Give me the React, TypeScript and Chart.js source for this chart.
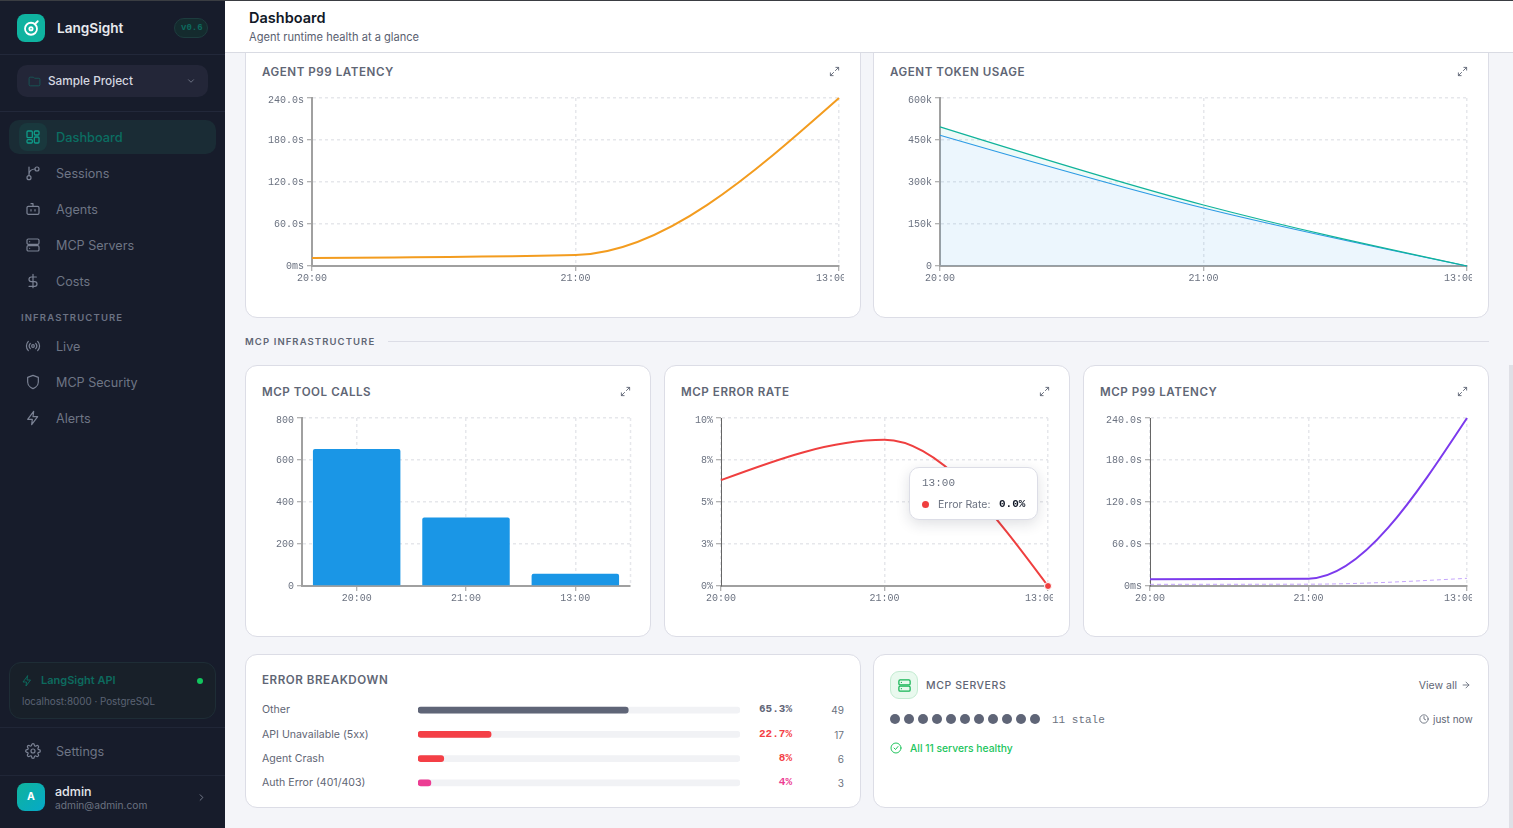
import React, { useEffect, useRef } from "react";
import { Chart, registerables } from "chart.js";
Chart.register(...registerables);

const timeLabels = ["20:00", "21:00", "13:00"];
const latencyTicks = ["0ms", "60.0s", "120.0s", "180.0s", "240.0s"];
const tokenTicks = ["0", "150k", "300k", "450k", "600k"];
const callTicks = ["0", "200", "400", "600", "800"];
const errorTicks = ["0%", "3%", "5%", "8%", "10%"];

const agentLatency = [11.4, 15.6, 240];
const tokensTotal = [497000, 218000, 0];
const tokensOutput = [467000, 207000, 0];
const toolCalls = [652, 326, 58];
const errorRate = [6.3, 8.7, 0];
const mcpLatency = [9.6, 10.5, 240];
const mcpLatencyP50 = [2.4, 2.6, 11];

const errorNames = ["Other", "API Unavailable (5xx)", "Agent Crash", "Auth Error (401/403)"];
const errorPercents = [65.3, 22.7, 8, 4];
const errorCounts = [49, 17, 6, 3];
const errorColors = ["#5f6577", "#f43f46", "#f43f46", "#ec3d93"];
const errorTextColors = ["#5f6577", "#f43f46", "#f43f46", "#ec3d93"];
const trackValues = [100, 100, 100, 100];

const MONO = "'Liberation Mono', monospace";
const SANS = "Inter, sans-serif";

const shiftPlugin = {
  id: "shiftTop",
  beforeDraw(chart: any) {
    const y = chart.scales.y;
    if (!y) return;
    const items = y.getLabelItems();
    const top = items[items.length - 1];
    if (top && !top.__moved) {
      top.options.translation = [top.options.translation[0], top.options.translation[1] + 2.5];
      top.__moved = true;
    }
  },
};

const shiftLastX = {
  id: "shiftLastX",
  beforeDraw(chart: any) {
    const items = chart.scales.x.getLabelItems();
    const last = items[items.length - 1];
    if (last && !last.__moved) {
      last.options.translation = [last.options.translation[0] - 8, last.options.translation[1]];
      last.__moved = true;
    }
  },
};

const sgn = (v: number) => (v < 0 ? -1 : 1);
// Monotone-X tangents: the end segments keep their slope instead of flattening out.
const monotoneX = {
  id: "monotoneX",
  afterDatasetsUpdate(chart: any) {
    chart.getSortedVisibleDatasetMetas().forEach((meta: any) => {
      if (meta.type !== "line") return;
      meta.dataset.updateControlPoints(chart.chartArea, "x");
      const pts = meta.data;
      const n = pts.length;
      const t: number[] = new Array(n).fill(0);
      for (let i = 1; i < n - 1; i++) {
        const h0 = pts[i].x - pts[i - 1].x;
        const h1 = pts[i + 1].x - pts[i].x;
        const s0 = (pts[i].y - pts[i - 1].y) / h0;
        const s1 = (pts[i + 1].y - pts[i].y) / h1;
        const p = (s0 * h1 + s1 * h0) / (h0 + h1);
        t[i] = (sgn(s0) + sgn(s1)) * Math.min(Math.abs(s0), Math.abs(s1), 0.5 * Math.abs(p));
      }
      t[0] = (3 * (pts[1].y - pts[0].y) / (pts[1].x - pts[0].x) - t[1]) / 2;
      t[n - 1] = (3 * (pts[n - 1].y - pts[n - 2].y) / (pts[n - 1].x - pts[n - 2].x) - t[n - 2]) / 2;
      for (let i = 0; i < n - 1; i++) {
        const dx = (pts[i + 1].x - pts[i].x) / 3;
        pts[i].cp2x = pts[i].x + dx;
        pts[i].cp2y = pts[i].y + dx * t[i];
        pts[i + 1].cp1x = pts[i + 1].x - dx;
        pts[i + 1].cp1y = pts[i + 1].y - dx * t[i + 1];
      }
    });
  },
};

const edgePlugin = {
  id: "rightEdge",
  beforeDatasetsDraw(chart: any) {
    const { ctx, chartArea } = chart;
    ctx.save();
    ctx.strokeStyle = "#e6e7eb";
    ctx.lineWidth = 1.5;
    ctx.setLineDash([3, 3]);
    ctx.beginPath();
    ctx.moveTo(chartArea.right + 0.5, chartArea.top);
    ctx.lineTo(chartArea.right + 0.5, chartArea.bottom);
    ctx.stroke();
    ctx.restore();
  },
};

function baseOptions(yw: number, max: number, ticks: string[], barOffset = false, yAxisColor = "#a0a0a0", yAxisWidth = 2, rightPad = 5): any {
  const grid = {
    color: "#e6e7eb",
    lineWidth: 1.5,
    tickColor: "#9a9a9a",
    tickWidth: 1,
    tickLength: 5,
    tickBorderDash: [],
    drawTicks: true,
  };
  return {
    responsive: false,
    animation: false,
    events: [],
    layout: { padding: { top: 10, right: rightPad, left: 0, bottom: 0 } },
    plugins: { legend: { display: false }, tooltip: { enabled: false } },
    scales: {
      x: {
        type: "category",
        offset: barOffset,
        grid: { ...grid, offset: false },
        border: { display: true, color: "#a0a0a0", width: 2, dash: [3, 3] },
        ticks: {
          autoSkip: false,
          maxRotation: 0,
          minRotation: 0,
          padding: 1,
          color: "#6b7280",
          font: { family: MONO, size: 10 },
        },
        afterFit(s: any) {
          s.height = 22;
          s.paddingLeft = 0;
          s.paddingRight = 0;
        },
      },
      y: {
        min: 0,
        max,
        ticks: {
          stepSize: max / 4,
          padding: 3,
          color: "#6b7280",
          font: { family: MONO, size: 10 },
          callback: (_v: any, i: number) => ticks[i],
        },
        grid: { ...grid },
        border: { display: true, color: yAxisColor, width: yAxisWidth, dash: [3, 3] },
        afterFit(s: any) {
          s.width = yw;
          s.paddingTop = 0;
          s.paddingBottom = 0;
        },
      },
    },
  };
}

function ChartBox({ left, top, width, height, config }: any) {
  const ref = useRef<HTMLCanvasElement>(null);
  useEffect(() => {
    const c = new Chart(ref.current as HTMLCanvasElement, config());
    return () => c.destroy();
  }, []);
  return <canvas ref={ref} width={width} height={height} style={{ position: "absolute", left, top, width, height, display: "block" }} />;
}

const line = (data: number[], color: string, extra: any = {}) => ({
  data,
  borderColor: color,
  borderWidth: 2,
  cubicInterpolationMode: "monotone",
  pointRadius: 0,
  clip: false,
  fill: false,
  ...extra,
});

const agentLatencyConfig = () => ({
  type: "line",
  data: { labels: timeLabels, datasets: [line(agentLatency, "#f39c1f")] },
  options: baseOptions(50, 240, latencyTicks),
  plugins: [shiftPlugin, shiftLastX, monotoneX],
});
const tokenConfig = () => ({
  type: "line",
  data: {
    labels: timeLabels,
    datasets: [
      line(tokensTotal, "#10b39a", { borderWidth: 1.2, fill: "+1", backgroundColor: "rgba(16,179,154,0.07)" }),
      line(tokensOutput, "#2e9ae8", { borderWidth: 1.2, fill: "origin", backgroundColor: "rgba(46,154,232,0.09)" }),
    ],
  },
  options: baseOptions(50, 600000, tokenTicks),
  plugins: [shiftPlugin, shiftLastX, monotoneX],
});
const callsConfig = () => ({
  type: "bar",
  data: {
    labels: timeLabels,
    datasets: [{ data: toolCalls, backgroundColor: "#1a96e6", categoryPercentage: 0.8, barPercentage: 1, borderRadius: { topLeft: 2, topRight: 2 }, borderSkipped: false }],
  },
  options: baseOptions(40, 800, callTicks, true, "#a0a0a0", 2, 6),
  plugins: [shiftPlugin, edgePlugin],
});
const errorConfig = () => ({
  type: "line",
  data: {
    labels: timeLabels,
    datasets: [
      line(errorRate, "#ef3f3f", {
        pointRadius: [0, 0, 3.5],
        pointBackgroundColor: "#ef3f3f",
        pointBorderColor: "#ffffff",
        pointBorderWidth: 1,
      }),
    ],
  },
  options: baseOptions(40, 10, errorTicks, false, "#666666", 1),
  plugins: [shiftPlugin, shiftLastX, monotoneX],
});
const mcpLatencyConfig = () => ({
  type: "line",
  data: {
    labels: timeLabels,
    datasets: [
      line(mcpLatencyP50, "#c4a5fb", { borderWidth: 1, borderDash: [4, 3] }),
      line(mcpLatency, "#7c3aed"),
    ],
  },
  options: baseOptions(50, 240, latencyTicks, false, "#666666", 1),
  plugins: [shiftPlugin, shiftLastX, monotoneX],
});
const breakdownConfig = () => ({
  type: "bar",
  data: {
    labels: errorNames,
    datasets: [
      { data: errorPercents, backgroundColor: errorColors, order: 0, barThickness: 6, borderRadius: 3, borderSkipped: false },
      { data: trackValues, backgroundColor: "#f1f2f5", order: 1, barThickness: 6, borderRadius: 3, borderSkipped: false },
    ],
  },
  options: {
    indexAxis: "y",
    responsive: false,
    animation: false,
    events: [],
    plugins: { legend: { display: false }, tooltip: { enabled: false } },
    scales: {
      x: { display: false, min: 0, max: 100 },
      y: { display: false, stacked: true },
    },
    datasets: { bar: { grouped: false } },
  },
});

function T({ x, y, right, c, s, w, f, ls, children }: any) {
  return (
    <div
      style={{
        position: "absolute",
        left: right === undefined ? x : undefined,
        right: right === undefined ? undefined : 1513 - right,
        top: y,
        transform: "translateY(-50%)",
        color: c,
        fontSize: s,
        fontWeight: w || 400,
        fontFamily: f || SANS,
        letterSpacing: ls,
        whiteSpace: "nowrap",
        lineHeight: 1.2,
      }}
    >
      {children}
    </div>
  );
}

function Box({ x, y, w, h, bg, r, b, extra }: any) {
  return <div style={{ position: "absolute", left: x, top: y, width: w, height: h, background: bg, borderRadius: r, border: b, boxSizing: "border-box", ...extra }} />;
}

function Icon({ cx, cy, size = 16, color, sw = 1.6, d, children }: any) {
  return (
    <svg
      width={size}
      height={size}
      viewBox="0 0 24 24"
      fill="none"
      stroke={color}
      strokeWidth={sw}
      strokeLinecap="round"
      strokeLinejoin="round"
      style={{ position: "absolute", left: cx - size / 2, top: cy - size / 2 }}
    >
      {d && <path d={d} />}
      {children}
    </svg>
  );
}

const P = {
  grid: (
    <>
      <rect x="3" y="3" width="8" height="10" rx="1.5" />
      <rect x="14" y="3" width="7" height="6" rx="1.5" />
      <rect x="14" y="12" width="7" height="9" rx="1.5" />
      <rect x="3" y="16" width="8" height="5" rx="1.5" />
    </>
  ),
  branch: (
    <>
      <circle cx="6" cy="19" r="3" />
      <circle cx="18" cy="6" r="3" />
      <path d="M6 3v13M15 6c-5 0-9 3-9 8" />
    </>
  ),
  bot: (
    <>
      <rect x="3" y="8" width="18" height="12" rx="2" />
      <path d="M12 8V4H9M9 13v2M15 13v2" />
    </>
  ),
  server: (
    <>
      <rect x="3" y="3" width="18" height="8" rx="2" />
      <rect x="3" y="13" width="18" height="8" rx="2" />
      <path d="M7 7h.01M7 17h.01" />
    </>
  ),
  dollar: <path d="M12 2v20M17 6H9.5a3.5 3.5 0 0 0 0 7h5a3.5 3.5 0 0 1 0 7H6" />,
  radio: (
    <>
      <circle cx="12" cy="12" r="2" />
      <path d="M8 8a6 6 0 0 0 0 8M16 8a6 6 0 0 1 0 8M5 5a10 10 0 0 0 0 14M19 5a10 10 0 0 1 0 14" />
    </>
  ),
  shield: <path d="M12 22s8-3 8-10V5l-8-3-8 3v7c0 7 8 10 8 10z" />,
  zap: <path d="M13 2 4 14h7l-1 8 9-12h-7l1-8z" />,
  gear: (
    <>
      <circle cx="12" cy="12" r="3" />
      <path d="M19.4 15a1.7 1.7 0 0 0 .3 1.8l.1.1a2 2 0 1 1-2.9 2.9l-.1-.1a1.7 1.7 0 0 0-2.8 1.2V21a2 2 0 1 1-4 0v-.1a1.7 1.7 0 0 0-2.9-1.2l-.1.1a2 2 0 1 1-2.8-2.9l.1-.1a1.7 1.7 0 0 0-1.2-2.8H3a2 2 0 1 1 0-4h.1a1.7 1.7 0 0 0 1.2-2.9l-.1-.1a2 2 0 1 1 2.9-2.8l.1.1a1.7 1.7 0 0 0 2.8-1.2V3a2 2 0 1 1 4 0v.1a1.7 1.7 0 0 0 2.9 1.2l.1-.1a2 2 0 1 1 2.8 2.9l-.1.1a1.7 1.7 0 0 0 1.2 2.8h.1a2 2 0 1 1 0 4h-.1a1.7 1.7 0 0 0-1.5 1z" />
    </>
  ),
  expand: <path d="M15 3h6v6M21 3l-7 7M9 21H3v-6M3 21l7-7" />,
  folder: <path d="M20 20a2 2 0 0 0 2-2V8a2 2 0 0 0-2-2h-8L10 4H4a2 2 0 0 0-2 2v12a2 2 0 0 0 2 2z" />,
};

const navTop = [
  ["Sessions", 173, P.branch],
  ["Agents", 209, P.bot],
  ["MCP Servers", 245, P.server],
  ["Costs", 281, P.dollar],
];
const navInfra = [
  ["Live", 346, P.radio],
  ["MCP Security", 382, P.shield],
  ["Alerts", 418, P.zap],
];
const NAV = "#6e7585";
const NAVI = "#7b8294";

function Sidebar() {
  return (
    <div style={{ position: "absolute", left: 0, top: 0, width: 225, height: 828, background: "#171c2b" }}>
      <Box x={17} y={14} w={28} h={28} r={8} bg="#0fb3a0" />
      <Icon cx={31} cy={28} size={18} color="#fff" sw={2.4}>
        <circle cx="12" cy="13" r="8" />
        <circle cx="12" cy="13" r="2.2" />
        <path d="M17 7l4-4" />
      </Icon>
      <T x={57} y={28} c="#e7e9ee" s={13.6} w={600}>LangSight</T>
      <Box x={174} y={18} w={34} h={20} r={10} bg="#142b2e" b="1px solid #1d3c3e" />
      <T x={181} y={28} c="#0d6a5e" s={9} w={700} f={MONO}>v0.6</T>
      <Box x={0} y={54} w={225} h={1} bg="#22283a" />

      <Box x={17} y={65} w={191} h={32} r={10} bg="#232638" />
      <Icon cx={34} cy={81} size={13} color="#175a58" d={(P.folder as any).props.d} />
      <T x={48} y={81} c="#d5d8e0" s={11.8} w={500}>Sample Project</T>
      <Icon cx={191} cy={81} size={10} color="#7a8090" sw={2} d="M6 9l6 6 6-6" />
      <Box x={0} y={111} w={225} h={1} bg="#22283a" />

      <Box x={9} y={120} w={207} h={34} r={10} bg="#1a2c35" />
      <Box x={19} y={123} w={28} h={28} r={8} bg="#19383d" />
      <Icon cx={33} cy={137} size={16} color="#0f9d8a" sw={1.9}>{P.grid}</Icon>
      <T x={56} y={138} c="#0b6e62" s={12.8} w={500}>Dashboard</T>

      {navTop.map(([t, y, ic]: any) => (
        <React.Fragment key={t}>
          <Icon cx={33} cy={y} size={16} color={NAVI} sw={1.8}>{ic}</Icon>
          <T x={56} y={y + 1} c={NAV} s={12.6} w={400}>{t}</T>
        </React.Fragment>
      ))}
      <T x={21} y={318} c="#6b7283" s={9.5} w={600} ls="0.12em">INFRASTRUCTURE</T>
      {navInfra.map(([t, y, ic]: any) => (
        <React.Fragment key={t}>
          <Icon cx={33} cy={y} size={16} color={NAVI} sw={1.8}>{ic}</Icon>
          <T x={56} y={y + 1} c={NAV} s={12.6} w={400}>{t}</T>
        </React.Fragment>
      ))}

      <Box x={9} y={662} w={207} h={57} r={12} bg="#182029" b="1px solid #1e2d36" />
      <Icon cx={27} cy={681} size={12} color="#0d6a5e" sw={1.9}>{P.zap}</Icon>
      <T x={41} y={681} c="#0d6a5e" s={11} w={600}>LangSight API</T>
      <Box x={197} y={678} w={6} h={6} r={3} bg="#12c55e" />
      <T x={22} y={701.5} c="#5b6374" s={9.85}>localhost:8000 · PostgreSQL</T>
      <Box x={0} y={727} w={225} h={1} bg="#202637" />
      <Icon cx={33} cy={751} size={16} color={NAVI} sw={1.8}>{P.gear}</Icon>
      <T x={56} y={752} c={NAV} s={12.6} w={400}>Settings</T>
      <Box x={0} y={775} w={225} h={1} bg="#202637" />
      <Box x={17} y={783} w={28} h={28} r={8} bg="linear-gradient(135deg,#0fb39c,#06a9c9)" />
      <T x={27} y={797} c="#fff" s={10.5} w={700}>A</T>
      <T x={55} y={791} c="#e5e7eb" s={12.5} w={500}>admin</T>
      <T x={55} y={805} c="#6b7280" s={10.2}>admin@admin.com</T>
      <Icon cx={201} cy={797} size={11} color="#7a8090" sw={2} d="M9 6l6 6-6 6" />
    </div>
  );
}

function Card({ x, y, w, h }: any) {
  return <Box x={x} y={y} w={w} h={h} r={12} bg="#fff" b="1px solid #dcdde6" />;
}
function CardTitle({ x, y, children }: any) {
  return <T x={x} y={y + 1.5} c="#5f6675" s={11.6} w={600} ls="0.047em">{children}</T>;
}
function Expand({ cx, cy }: any) {
  return <Icon cx={cx} cy={cy} size={11} color="#5f6675" sw={2}>{P.expand}</Icon>;
}

export default function App() {
  const rowY = [710, 734.5, 759, 783];
  const dots = Array.from({ length: 11 }, (_, i) => i);
  return (
    <div style={{ position: "fixed", left: 0, top: 0, width: 1513, height: 828, overflow: "hidden", background: "#f4f5f9", fontFamily: SANS }}>
      <Card x={245} y={30} w={616} h={288} />
      <Card x={873} y={30} w={616} h={288} />
      <CardTitle x={262} y={71}>AGENT P99 LATENCY</CardTitle>
      <CardTitle x={890} y={71}>AGENT TOKEN USAGE</CardTitle>
      <Expand cx={834} cy={71} />
      <Expand cx={1462} cy={71} />
      <ChartBox left={262} top={88} width={582} height={200} config={agentLatencyConfig} />
      <ChartBox left={890} top={88} width={582} height={200} config={tokenConfig} />

      <T x={245} y={341.5} c="#5f6675" s={9.5} w={600} ls="0.115em">MCP INFRASTRUCTURE</T>
      <Box x={388} y={341} w={1101} h={1} bg="#dcdde6" />

      <Card x={245} y={365} w={406} h={272} />
      <Card x={664} y={365} w={406} h={272} />
      <Card x={1083} y={365} w={406} h={272} />
      <CardTitle x={262} y={391}>MCP TOOL CALLS</CardTitle>
      <CardTitle x={681} y={391}>MCP ERROR RATE</CardTitle>
      <CardTitle x={1100} y={391}>MCP P99 LATENCY</CardTitle>
      <Expand cx={625} cy={391} />
      <Expand cx={1044} cy={391} />
      <Expand cx={1462} cy={391} />
      <ChartBox left={262} top={408} width={374} height={200} config={callsConfig} />
      <ChartBox left={681} top={408} width={372} height={200} config={errorConfig} />
      <ChartBox left={1100} top={408} width={372} height={200} config={mcpLatencyConfig} />

      <div style={{ position: "absolute", left: 909, top: 467, width: 129, height: 53, boxSizing: "border-box", background: "#fff", border: "1px solid #dcdde6", borderRadius: 10, boxShadow: "0 4px 14px rgba(30,35,60,0.14)" }} />
      <T x={922} y={484} c="#6b7280" s={11} f={MONO}>{timeLabels[2]}</T>
      <Box x={921.5} y={500.5} w={7} h={7} r={4} bg="#ef3f3f" />
      <T x={938} y={504.5} c="#6b7280" s={10.5}>Error Rate:</T>
      <T x={999} y={505} c="#111827" s={11} w={700} f={MONO}>{errorRate[2].toFixed(1)}%</T>

      <Card x={245} y={654} w={616} h={154} />
      <T x={262} y={681} c="#5f6675" s={11.6} w={600} ls="0.047em">ERROR BREAKDOWN</T>
      <ChartBox left={418} top={698} width={322} height={97} config={breakdownConfig} />
      {errorNames.map((n, i) => (
        <React.Fragment key={n}>
          <T x={262} y={rowY[i]} c="#5f6675" s={10.6}>{n}</T>
          <T right={792} y={rowY[i]} c={errorTextColors[i]} s={11} w={700} f={MONO}>{errorPercents[i]}%</T>
          <T right={844} y={rowY[i]} c="#6b7280" s={10}>{errorCounts[i]}</T>
        </React.Fragment>
      ))}

      <Card x={873} y={654} w={616} h={154} />
      <Box x={890} y={671} w={28} h={28} r={9} bg="#e9f9ee" b="1px solid #c4ecd2" />
      <Icon cx={904} cy={685} size={15} color="#16b556" sw={2}>{P.server}</Icon>
      <T x={926} y={686} c="#5f6675" s={10.5} w={500} ls="0.055em">MCP SERVERS</T>
      <T right={1457} y={686} c="#5f6675" s={10.5}>View all</T>
      <Icon cx={1466} cy={685} size={10} color="#5f6675" sw={2} d="M5 12h14M12 5l7 7-7 7" />
      {dots.map((i) => (
        <Box key={i} x={890 + i * 14} y={714} w={10} h={10} r={5} bg="#5f6577" />
      ))}
      <T x={1052} y={720.5} c="#6b7280" s={11} f={MONO}>11 stale</T>
      <Icon cx={1424} cy={719} size={10} color="#5f6675" sw={2}>
        <circle cx="12" cy="12" r="10" />
        <path d="M12 6v6l4 2" />
      </Icon>
      <T x={1433} y={719} c="#5f6675" s={10}>just now</T>
      <Icon cx={896} cy={748} size={12} color="#22c55e" sw={2}>
        <circle cx="12" cy="12" r="10" />
        <path d="M8 12l3 3 5-6" />
      </Icon>
      <T x={910} y={748} c="#22c55e" s={10.3} w={500}>All 11 servers healthy</T>

      <Box x={1509} y={365} w={4} h={463} bg="#dfe0e6" />

      <div style={{ position: "absolute", left: 225, top: 0, width: 1288, height: 53, background: "#fff", borderBottom: "1px solid #d9dbe3", boxSizing: "border-box" }} />
      <T x={249} y={18} c="#111827" s={14.5} w={600}>Dashboard</T>
      <T x={249} y={37.5} c="#5a6070" s={11.1}>Agent runtime health at a glance</T>
      <Sidebar />
      <Box x={0} y={0} w={1513} h={1} bg="#3a3d42" />
    </div>
  );
}
